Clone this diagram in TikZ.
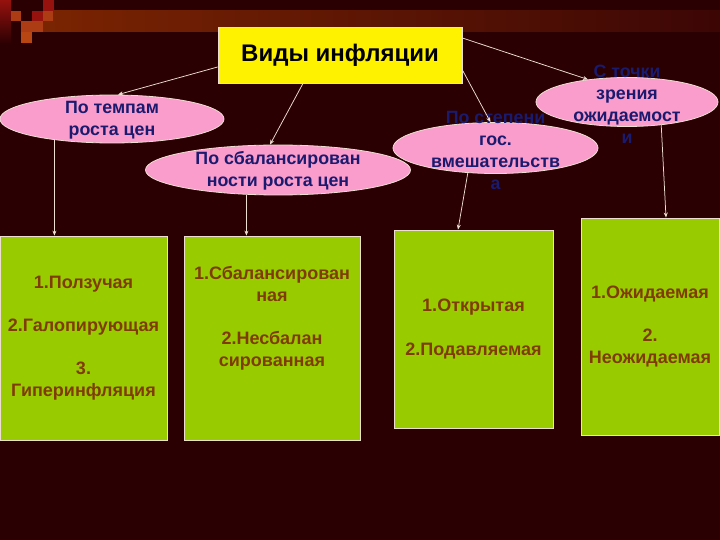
\documentclass[tikz,border=0pt]{standalone}
\usepackage{fontspec}
\setmainfont{Liberation Sans}
\usetikzlibrary{shapes.geometric,arrows.meta,calc}
\definecolor{bg}{RGB}{42,0,2}
\definecolor{barL}{RGB}{122,36,2}
\definecolor{barR}{RGB}{60,6,5}
\definecolor{sqred}{RGB}{150,18,14}
\definecolor{sqor}{RGB}{172,60,20}
\definecolor{sqor2}{RGB}{184,70,18}
\definecolor{edge}{RGB}{238,222,210}
\definecolor{pinkf}{RGB}{250,156,204}
\definecolor{greenf}{RGB}{153,204,0}
\definecolor{navy}{RGB}{26,26,110}
\definecolor{brownt}{RGB}{128,60,0}
\tikzset{
  topbox/.style={fill=yellow, draw=edge, line width=0.8pt, minimum width=244pt, minimum height=56pt, inner sep=0pt, text=black, font=\bfseries\fontsize{24}{28}\selectfont},
  oval/.style={ellipse, fill=pinkf, draw=edge, line width=0.8pt, inner sep=0pt},
  ovaltext/.style={align=center, text=navy, inner sep=0pt, font=\bfseries\fontsize{17.8}{22}\selectfont},
  greenbox/.style={fill=greenf, draw=edge, line width=0.8pt, inner sep=0pt, align=center, text=brownt, font=\bfseries\fontsize{18}{21.6}\selectfont},
  conn/.style={draw=edge, line width=0.75pt, -{Stealth[length=5pt,width=4pt]}}
}
\begin{document}
\begin{tikzpicture}[x=1pt,y=-1pt]
\useasboundingbox (0,0) rectangle (720,540);
\fill[bg] (0,0) rectangle (720,540);
% decoration
\shade[top color=sqred, bottom color=bg] (0,0) rectangle (11,44);
\shade[left color=barL, right color=barR] (43,11) rectangle (720,32);
\fill[sqred] (43,0) rectangle (53.5,11);
\fill[sqor] (10.7,11) rectangle (21.3,21.5);
\fill[sqred] (32,11) rectangle (42.7,21.5);
\fill[sqor] (42.7,11) rectangle (53.3,21.5);
\fill[sqor] (21.3,21.5) rectangle (42.7,32);
\fill[sqor2] (21.3,32) rectangle (32,43);
% title
\node[topbox] (top) at (340,55) {Виды инфляции};
% ellipses
\node[oval, minimum width=224pt, minimum height=48pt] (e1) at (112,119) {};
\node[ovaltext] (t1) at (112,120.5) {По темпам\\роста цен};
\node[oval, minimum width=265pt, minimum height=50pt] (e2) at (278,170) {};
\node[ovaltext] (t2) at (278,171) {По сбалансирован\\ности роста цен};
\node[oval, minimum width=205pt, minimum height=51pt] (e3) at (495.5,148) {};
\node[ovaltext] (t3) at (495.5,150) {По степени\\гос.\\вмешательств\\а};
\node[oval, minimum width=182pt, minimum height=49pt] (e4) at (627,102) {};
\node[ovaltext] (t4) at (627,104.5) {С точки\\зрения\\ожидаемост\\и};
% boxes
\node[greenbox, minimum width=167pt, minimum height=204pt] (b1) at (83.5,338) {1.Ползучая\\[21.6pt]2.Галопирующая\\[21.6pt]3.\\Гиперинфляция};
\node[greenbox, minimum width=176pt, minimum height=204pt] (b2) at (272,338) {1.Сбалансирован\\ная\\[21.6pt]2.Несбалан\\сированная\\[21.6pt]\mbox{}};
\node[greenbox, minimum width=159pt, minimum height=198pt] (b3) at (473.5,329) {1.Открытая\\[21.6pt]2.Подавляемая};
\node[greenbox, minimum width=138pt, minimum height=217pt] (b4) at (650,326.5) {1.Ожидаемая\\[21.6pt]2.\\Неожидаемая};
% connectors
\draw[conn] ([yshift=-12pt]top.west) -- ([xshift=6pt]e1.north);
\draw[conn] ([xshift=-37pt]top.south) -- ([xshift=-8pt]e2.north);
\draw[conn] ([yshift=-15pt]top.east) -- ([xshift=-5pt]e3.north);
\draw[conn] ([yshift=17pt]top.east) -- (e4.150);
\draw[conn] (e1.200) -- (e1.200 |- b1.north);
\draw[conn] (e2.218) -- (e2.218 |- b2.north);
\draw[conn] (e3.222) -- ([xshift=-15.5pt]b3.north);
\draw[conn] (e4.326) -- ([xshift=16pt]b4.north);
\end{tikzpicture}
\end{document}
